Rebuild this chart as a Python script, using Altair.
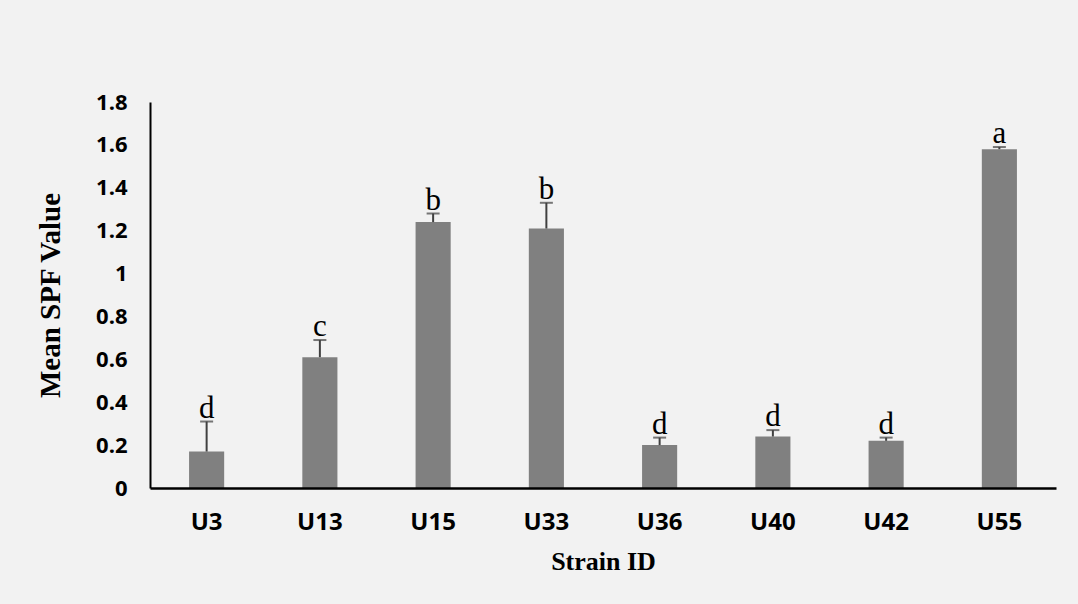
import altair as alt
import pandas as pd

# Mean SPF value per strain, with standard error and significance group
strains = ["U3", "U13", "U15", "U33", "U36", "U40", "U42", "U55"]
mean_spf = [0.17, 0.61, 1.24, 1.21, 0.20, 0.24, 0.22, 1.58]
std_err = [0.14, 0.08, 0.04, 0.12, 0.035, 0.03, 0.015, 0.01]
groups = ["d", "c", "b", "b", "d", "d", "d", "a"]
y_ticks = [0, 0.2, 0.4, 0.6, 0.8, 1.0, 1.2, 1.4, 1.6, 1.8]

df = pd.DataFrame({
    "strain": strains,
    "mean": mean_spf,
    "err": std_err,
    "group": groups,
})
df["upper"] = df["mean"] + df["err"]

W, H = 906, 386
PAD_L, PAD_T = 150, 102

x_enc = alt.X(
    "strain:N",
    sort=strains,
    scale=alt.Scale(paddingInner=0.69, paddingOuter=0.345),
    axis=alt.Axis(
        title="Strain ID",
        labelFont="Open Sans",
        labelFontWeight="bold",
        labelFontSize=24,
        labelColor="#000000",
        labelPadding=22,
        labelAngle=0,
        ticks=False,
        domainColor="#000000",
        domainWidth=2.5,
        titleFont="Liberation Serif",
        titleFontWeight="bold",
        titleFontSize=26,
        titleColor="#000000",
        titleX=453,
        titleY=60,
        titleBaseline="top",
        zindex=1,
    ),
)

y_scale = alt.Scale(domain=[0, 1.8], nice=False)
y_axis = alt.Axis(
    title="Mean SPF Value",
    values=y_ticks,
    format=".1~f",
    grid=False,
    ticks=False,
    labelFont="Open Sans",
    labelFontWeight="bold",
    labelFontSize=22,
    labelColor="#000000",
    labelPadding=23,
    domainColor="#000000",
    domainWidth=2,
    titleFont="Liberation Serif",
    titleFontWeight="bold",
    titleFontSize=29,
    titleColor="#000000",
    titleAngle=-90,
    titleX=-100,
    titleY=H / 2,
    titleAlign="center",
    titleBaseline="middle",
    zindex=1,
)

base = alt.Chart(df)

bars = base.mark_bar(color="#808080").encode(
    x=x_enc,
    y=alt.Y("mean:Q", scale=y_scale, axis=y_axis),
)

err_line = base.mark_rule(color="#404040", strokeWidth=2).encode(
    x=alt.X("strain:N", sort=strains),
    y="mean:Q",
    y2="upper:Q",
)

err_cap = base.mark_tick(color="#404040", thickness=2, size=13).encode(
    x=alt.X("strain:N", sort=strains),
    y="upper:Q",
)

letters = base.mark_text(
    font="Liberation Serif",
    fontSize=31,
    color="#000000",
    baseline="alphabetic",
    dy=-4,
).encode(
    x=alt.X("strain:N", sort=strains),
    y="upper:Q",
    text="group:N",
)

chart = (
    alt.layer(bars, err_line, err_cap, letters)
    .properties(
        width=W,
        height=H,
        padding={"left": PAD_L, "top": PAD_T, "right": 1078 - PAD_L - W, "bottom": 604 - PAD_T - H},
        autosize=alt.AutoSizeParams(type="none"),
        background="#f2f2f2",
    )
    .configure_view(stroke=None)
)

chart.save("out.html", embed_options={"renderer": "svg", "actions": False})
